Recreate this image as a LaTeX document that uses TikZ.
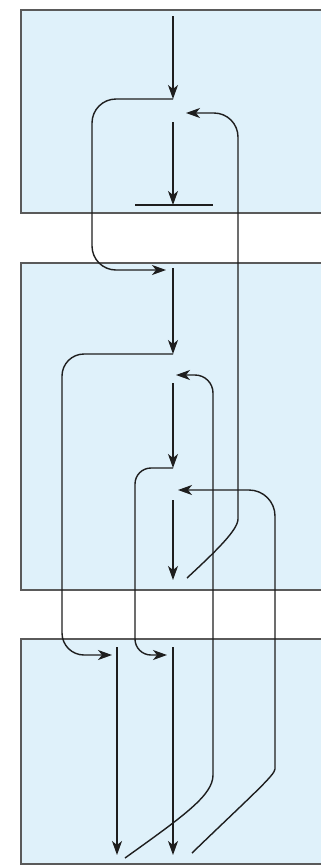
\documentclass[tikz,border=0pt]{standalone}
\usepackage{amsmath}
\usepackage{tikz}
\usetikzlibrary{arrows.meta}

\definecolor{panelblue}{RGB}{223,241,250}
\definecolor{panelgray}{RGB}{90,90,90}
\definecolor{wire}{RGB}{30,30,30}

\begin{document}
\begin{tikzpicture}[x=1pt, y=-1pt,
  panel/.style={draw=panelgray, line width=1.8pt, fill=panelblue, rectangle, anchor=north west, inner sep=0pt},
  flow/.style={draw=wire, line width=1.4pt, -{Stealth[length=14pt, width=10pt, inset=4pt]}},
  back/.style={draw=wire, line width=1.4pt, rounded corners=24pt, -{Stealth[length=14pt, width=10pt, inset=4pt]}},
  plain/.style={draw=wire, line width=1.4pt}]
\useasboundingbox (0,0) rectangle (321,865);
\clip (0,0) rectangle (321,865);

% Boxes
\node[panel, minimum width=320pt, minimum height=203pt] (top) at (20,9) {};
\node[panel, minimum width=320pt, minimum height=327pt] (mid) at (20,262) {};
\node[panel, minimum width=320pt, minimum height=225pt] (bot) at (20,638) {};

% Points
\coordinate (in) at (173,16);
\coordinate (t1) at (173,99);
\coordinate (t2) at (173,122);
\coordinate (t3) at (173,205);
\coordinate (barL) at (135,205);
\coordinate (barR) at (213,205);
\coordinate (t4) at (186,113);
\coordinate (m0) at (166,270);
\coordinate (m1) at (173,268);
\coordinate (m2) at (173,354);
\coordinate (m3) at (176,375);
\coordinate (m4) at (173,383);
\coordinate (m5) at (173,468);
\coordinate (m6) at (178,490);
\coordinate (m7) at (173,500);
\coordinate (m8) at (173,580);
\coordinate (b1) at (112,655);
\coordinate (b2) at (167,655);
\coordinate (b3) at (117,647);
\coordinate (b4) at (117,855);
\coordinate (b5) at (173,647);
\coordinate (b6) at (173,855);
\coordinate (s1) at (187,578);
\coordinate (s2) at (125,858);
\coordinate (s3) at (192,853);

% Arrows
\draw[flow] (in) -- (t1);
\draw[flow] (t2) -- (t3);
\draw[plain] (barL) -- (barR);
\draw[back] (t1) -| (92,270) -- (m0);
\draw[flow] (m1) -- (m2);
\draw[flow] (m4) -- (m5);
\draw[flow] (m7) -- (m8);
\draw[back, rounded corners=22pt] (m2) -| (62,655) -- (b1);
\draw[back, rounded corners=16pt] (m5) -| (135,655) -- (b2);
\draw[flow] (b3) -- (b4);
\draw[flow] (b5) -- (b6);

% Returns
\draw[back] (s1) .. controls (215,552) and (238,530) .. (238,495) |- (t4);
\draw[back, rounded corners=18pt] (s2) .. controls (185,815) and (213,795) .. (213,757) |- (m3);
\draw[back, rounded corners=26pt] (s3) .. controls (250,797) and (275,775) .. (275,743) |- (m6);

\end{tikzpicture}
\end{document}
